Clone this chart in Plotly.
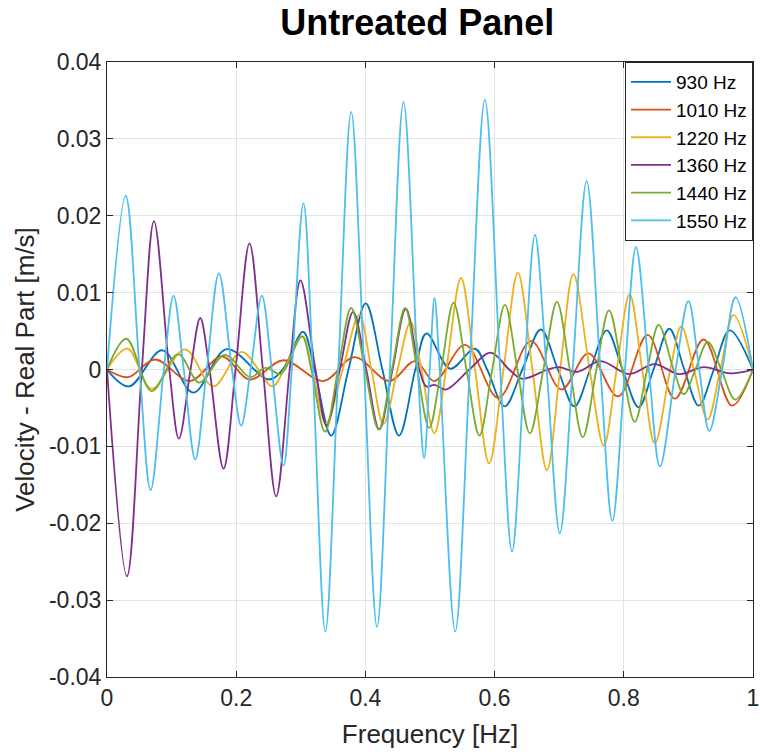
import plotly.graph_objects as go

# ---- data (extrema and zero crossings) ----
series_names = ["930 Hz", "1010 Hz", "1220 Hz", "1360 Hz", "1440 Hz", "1550 Hz"]
series_colors = ["#0072BD", "#D95319", "#EDB120", "#7E2F8E", "#77AC30", "#4DBEEE"]

x_930 = [0, 0.034, 0.0856, 0.1336, 0.1853, 0.25, 0.272, 0.3035, 0.3213, 0.347, 0.3738, 0.4005,
         0.4263, 0.452, 0.4773, 0.4946, 0.531, 0.5695, 0.5884, 0.6155, 0.643, 0.6715, 0.698,
         0.7235, 0.748, 0.7735, 0.798, 0.823, 0.846, 0.8705, 0.8937, 0.916, 0.9395, 0.964, 1.0]
y_930 = [0, -0.0022, 0.0025, -0.0030, 0.00265, -0.0013, 0, 0.0049, 0, -0.0086, 0, 0.0086,
         0, -0.0086, 0, 0.0047, 0.0001, 0.0027, 0, -0.0048, 0, 0.0052, 0,
         -0.0048, 0, 0.0051, 0, -0.0049, 0, 0.0053, 0, -0.0047, 0, 0.0051, 0]

x_1010 = [0, 0.033, 0.0743, 0.1285, 0.1775, 0.221, 0.273, 0.3351, 0.383, 0.437, 0.477,
          0.507, 0.5545, 0.6058, 0.6563, 0.7035, 0.745, 0.791, 0.8369, 0.879, 0.9235, 0.9675, 1.0]
y_1010 = [0, -0.0010, 0.0013, -0.0015, 0.0017, -0.0013, 0.0012, -0.0015, 0.0016, -0.0015, 0.0011,
          -0.0015, 0.0032, -0.0037, 0.0037, -0.0026, 0.0021, -0.0035, 0.0045, -0.0038, 0.0039, -0.0047, 0]

x_1220 = [0, 0.032, 0.069, 0.1207, 0.1646, 0.2085, 0.256, 0.2742, 0.302, 0.3177, 0.339, 0.3648,
          0.3905, 0.4093, 0.428, 0.4498, 0.470, 0.4867, 0.5067, 0.5251, 0.548, 0.5697, 0.5915,
          0.6138, 0.636, 0.6585, 0.681, 0.7015, 0.722, 0.7471, 0.769, 0.789, 0.809, 0.8285,
          0.848, 0.872, 0.889, 0.9085, 0.9297, 0.9495, 0.970, 1.0]
y_1220 = [0, 0.0027, -0.0025, 0.0026, -0.0022, 0.0023, -0.0022, 0, 0.0043, 0, -0.0070, 0,
          0.0071, 0, -0.0071, 0, 0.0062, 0, -0.0083, 0, 0.0119, 0, -0.0122,
          0, 0.0126, 0, -0.0131, 0, 0.0124, 0, -0.0099, 0, 0.0098, 0,
          -0.0096, 0, 0.0056, 0, -0.0065, 0, 0.0071, 0]

x_1360 = [0, 0.0309, 0.0539, 0.0727, 0.0964, 0.1113, 0.1293, 0.1443, 0.1587, 0.1804, 0.199,
          0.2206, 0.2413, 0.2619, 0.2828, 0.2995, 0.3227, 0.340, 0.3605, 0.381, 0.4013, 0.4215,
          0.442, 0.4625, 0.4835, 0.494, 0.507, 0.525, 0.561, 0.594, 0.6226, 0.642, 0.6825,
          0.6995, 0.728, 0.764, 0.808, 0.8475, 0.8857, 0.924, 0.965, 1.0]
y_1360 = [0, -0.0269, 0, 0.0193, 0, -0.0090, 0, 0.0067, 0, -0.0129, 0,
          0.0164, 0, -0.0165, 0, 0.0116, 0, -0.0073, 0, 0.0075, 0, -0.0078,
          0, 0.0079, 0, -0.0022, -0.0020, -0.0026, 0, 0.0022, 0, -0.0012, 0,
          0.0003, -0.0003, 0.0011, -0.0006, 0.0007, -0.0006, 0.0003, -0.0005, 0]

x_1440 = [0, 0.030, 0.069, 0.110, 0.143, 0.182, 0.222, 0.245, 0.268, 0.2755, 0.302, 0.3162,
          0.3374, 0.3577, 0.378, 0.3993, 0.4206, 0.441, 0.4615, 0.4801, 0.4987, 0.5172,
          0.5365, 0.5565, 0.5765, 0.5963, 0.616, 0.6353, 0.6546, 0.6755, 0.6965, 0.7165,
          0.7365, 0.7576, 0.777, 0.7976, 0.817, 0.8362, 0.854, 0.877, 0.893, 0.9108,
          0.930, 0.9508, 0.9725, 1.0]
y_1440 = [0, 0.0040, -0.0028, 0.0020, -0.0017, 0.0019, -0.0010, 0.0002, -0.0006, 0, 0.0043, 0,
          -0.0081, 0, 0.0080, 0, -0.0078, 0, 0.0080, 0, -0.0076, 0,
          0.0087, 0, -0.0086, 0, 0.0084, 0, -0.0083, 0, 0.0088, 0,
          -0.0088, 0, 0.0077, 0, -0.0068, 0, 0.0058, 0, -0.0032, 0,
          0.0036, 0, -0.0039, 0]

x_1550 = [0, 0.0289, 0.0504, 0.0675, 0.088, 0.103, 0.1188, 0.1366, 0.1544, 0.1732, 0.1934,
          0.2077, 0.2224, 0.2397, 0.2551, 0.2732, 0.286, 0.3041, 0.3186, 0.338, 0.358, 0.378,
          0.398, 0.418, 0.438, 0.459, 0.481, 0.491, 0.4996, 0.507, 0.515, 0.539, 0.5615,
          0.585, 0.6086, 0.627, 0.6463, 0.6625, 0.6806, 0.701, 0.7209, 0.7425, 0.7638,
          0.7823, 0.8018, 0.8189, 0.8388, 0.856, 0.8803, 0.900, 0.9168, 0.9324, 0.9524,
          0.973, 1.0]
y_1550 = [0, 0.0226, 0, -0.0157, 0, 0.0096, 0, -0.0117, 0, 0.0125, 0,
          -0.0073, 0, 0.0096, 0, -0.0125, 0, 0.0216, 0, -0.0341, 0, 0.0335,
          0, -0.0335, 0, 0.0348, 0, -0.0115, 0, 0.0093, 0, -0.0341, 0,
          0.0351, 0, -0.0237, 0, 0.0175, 0, -0.0213, 0, 0.0245, 0,
          -0.0197, 0, 0.0159, 0, -0.0126, 0, 0.0089, 0, -0.0080, 0,
          0.0094, 0]

xs = [x_930, x_1010, x_1220, x_1360, x_1440, x_1550]
ys = [y_930, y_1010, y_1220, y_1360, y_1440, y_1550]

x_tickvals = [0, 0.2, 0.4, 0.6, 0.8, 1.0]
x_ticktext = ["0", "0.2", "0.4", "0.6", "0.8", "1"]
y_tickvals = [-0.04, -0.03, -0.02, -0.01, 0, 0.01, 0.02, 0.03, 0.04]
y_ticktext = ["-0.04", "-0.03", "-0.02", "-0.01", "0", "0.01", "0.02", "0.03", "0.04"]

FONT = "Liberation Sans, Arial, Helvetica, sans-serif"
AX = "#262626"

fig = go.Figure()
for name, color, x, y in zip(series_names, series_colors, xs, ys):
    fig.add_trace(go.Scatter(x=x, y=y, mode="lines", name=name,
                             line=dict(color=color, width=1.8, shape="spline", smoothing=1.0)))

axis_common = dict(showline=True, linecolor=AX, linewidth=1, mirror="ticks",
                   ticks="inside", ticklen=6, tickcolor=AX, tickwidth=1,
                   showgrid=True, gridcolor="#e3e3e3", gridwidth=1, zeroline=False,
                   automargin=False,
                   tickfont=dict(family=FONT, size=23, color=AX))

fig.update_layout(
    width=760, height=752,
    margin=dict(l=107, r=7, t=62, b=75),
    paper_bgcolor="white", plot_bgcolor="white",
    title=dict(text="<b>Untreated Panel</b>", x=0.549, xanchor="center", y=0.970, yanchor="middle",
               font=dict(family=FONT, size=36, color="black")),
    xaxis=dict(range=[0, 1], tickvals=x_tickvals, ticktext=x_ticktext,
               title=dict(text="Frequency [Hz]", font=dict(family=FONT, size=26, color=AX), standoff=15),
               **axis_common),
    yaxis=dict(range=[-0.04, 0.04], tickvals=y_tickvals, ticktext=y_ticktext,
               title=dict(text="Velocity - Real Part [m/s]", font=dict(family=FONT, size=26, color=AX), standoff=6),
               **axis_common),
    legend=dict(x=1, xanchor="right", y=1, yanchor="top", bgcolor="white",
                bordercolor=AX, borderwidth=1, font=dict(family=FONT, size=19, color="black"),
                itemwidth=40, tracegroupgap=0),
    showlegend=True,
)

fig.write_html("out.html")
